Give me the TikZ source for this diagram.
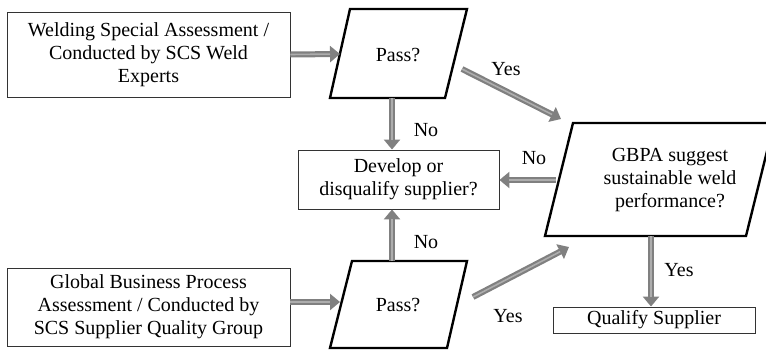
\documentclass[tikz,border=0pt]{standalone}
\usepackage{fontspec}
\setmainfont{Liberation Serif}
\usetikzlibrary{arrows.meta}
\begin{document}
\begin{tikzpicture}[x=1pt,y=-1pt,
  every node/.style={font=\fontsize{20}{23}\selectfont, align=center, inner sep=0pt},
  box/.style={draw=black!80, line width=0.9pt, rectangle},
  para/.style={draw=black, line width=2.4pt, line join=miter},
  lbl/.style={font=\fontsize{20}{23}\selectfont},
  flow/.style={draw=black!50, line width=6pt,
    -{Triangle[width=16pt,length=10pt]},
    postaction={draw=black!32, line width=1.6pt, shorten >=10pt, -}}
]
\useasboundingbox (0,0) rectangle (766,350);
\clip (0,0) rectangle (766,350);

% rectangular boxes
\node[box, minimum width=283, minimum height=85] (weld) at (148.5,54.5)
  {Welding Special Assessment /\\Conducted by SCS Weld\\Experts};
\node[box, minimum width=283, minimum height=78] (gbpa) at (148.5,307)
  {Global Business Process\\Assessment / Conducted by\\SCS Supplier Quality Group};
\node[box, minimum width=201, minimum height=59] (dev) at (398.5,179.5)
  {Develop or\\disqualify supplier?};
\node[box, minimum width=202, minimum height=26] (qual) at (654,320)
  {Qualify Supplier};

% decision parallelograms
\draw[para] (330,98) -- (350,9) -- (467,9) -- (445,98) -- cycle;
\node (pass1) at (398,55) {Pass?};
\draw[para] (330,348) -- (352,261) -- (467,261) -- (447,348) -- cycle;
\node (pass2) at (398,305) {Pass?};
\draw[para] (545,236) -- (573,123) -- (774,123) -- (746,236) -- cycle;
\node (sust) at (670,180) {GBPA suggest\\sustainable weld\\performance?};

% attachment points on the parallelogram edges
\coordinate (p1in) at (340,54);
\coordinate (p1bot) at (392,98);
\coordinate (p1out) at (462,69);
\coordinate (p2in) at (340,302);
\coordinate (p2top) at (392,261);
\coordinate (p2out) at (473,297);
\coordinate (sin1) at (561,119);
\coordinate (sin2) at (569,247);
\coordinate (sleft) at (556,180);
\coordinate (sbot) at (651,236);

% flow arrows
\draw[flow] (weld.east) -- (p1in);
\draw[flow] (gbpa.east |- p2in) -- (p2in);
\draw[flow] (p1bot) -- (p1bot |- dev.north);
\draw[flow] (p2top) -- (p2top |- dev.south);
\draw[flow] (p1out) -- (sin1);
\draw[flow] (p2out) -- (sin2);
\draw[flow] (sleft) -- (sleft -| dev.east);
\draw[flow] (sbot) -- (sbot |- qual.north);

% branch labels
\node[lbl] (l1) at (426,130) {No};
\node[lbl] (l2) at (426,242) {No};
\node[lbl] (l3) at (534,158) {No};
\node[lbl] (l4) at (506,69) {Yes};
\node[lbl] (l5) at (508,316) {Yes};
\node[lbl] (l6) at (679,270) {Yes};
\end{tikzpicture}
\end{document}
